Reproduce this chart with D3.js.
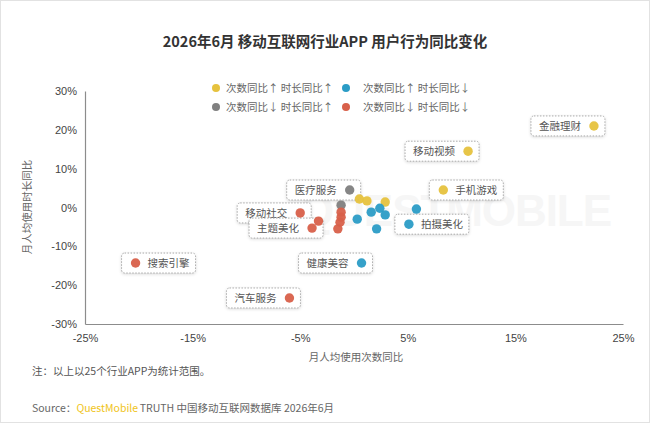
<!DOCTYPE html>
<html>
<head>
<meta charset="utf-8">
<script src="https://cdn.jsdelivr.net/npm/d3@7"></script>
<style>
  body { margin: 0; background: #fff; }
  svg { display: block; font-family: "Noto Sans CJK SC", "Liberation Sans", sans-serif; }
</style>
</head>
<body>
<svg id="canvas" width="650" height="423"></svg>
<script>
// app names ("" = no label), 次数同比 (%), 时长同比 (%)
const apps = ["金融理财", "移动视频", "手机游戏", "", "", "",
  "拍摄美化", "", "健康美容", "", "", "", "", "",
  "医疗服务", "",
  "移动社交", "主题美化", "搜索引擎", "汽车服务", "", "", "", "", ""];
const countChange = [22.3, 10.6, 8.3, 0.5, 1.2, 2.9,
  5.1, 5.8, 0.7, 0.3, 1.6, 2.4, 2.9, 2.1,
  -0.4, -1.2,
  -5.0, -3.9, -20.3, -6.0, -3.3, -1.2, -1.2, -1.3, -1.5];
const timeChange = [21.0, 14.5, 4.5, 2.2, 1.7, 1.4,
  -4.3, -0.4, -14.3, -3.0, -1.2, -0.2, -1.9, -5.5,
  4.5, 0.6,
  -1.4, -5.3, -14.3, -23.3, -3.5, -1.2, -2.5, -3.8, -5.5];

const xTicks = [-25, -15, -5, 5, 15, 25];
const yTicks = [-30, -20, -10, 0, 10, 20, 30];

const legendLabels = ["次数同比↑ 时长同比↑", "次数同比↑ 时长同比↓", "次数同比↓ 时长同比↑", "次数同比↓ 时长同比↓"];
const colors = ["#e6c23e", "#2b9cc6", "#808080", "#d8604a"];

// labels with the dot on the left of the text
const dotFirst = ["手机游戏", "拍摄美化", "搜索引擎"];

const svg = d3.select("#canvas");

const x = d3.scaleLinear().domain([-25, 25]).range([85, 623]);
const y = d3.scaleLinear().domain([-30, 30]).range([324, 91]);

let colorOf = i => {
  let up1 = countChange[i] >= 0, up2 = timeChange[i] >= 0;
  if (up1 && up2) return colors[0];
  if (up1) return colors[1];
  if (up2) return colors[2];
  return colors[3];
};

// frame
svg.append("rect").attr("x", 0.5).attr("y", 0.5).attr("width", 649).attr("height", 422)
  .attr("fill", "#fff").attr("stroke", "#e2e2e2");

// faint watermark
svg.append("text").attr("x", 300).attr("y", 226).text("QUESTMOBILE")
  .attr("font-family", "Liberation Sans").attr("font-size", 44).attr("font-weight", "bold")
  .attr("textLength", 312).attr("fill", "#f6f6f6");

// title
svg.append("text").attr("x", 325).attr("y", 47).attr("text-anchor", "middle")
  .attr("font-size", 14.5).attr("font-weight", "bold").attr("fill", "#333")
  .text("2026年6月 移动互联网行业APP 用户行为同比变化");

// legend
const legend = svg.append("g").selectAll("g").data(legendLabels).enter().append("g")
  .attr("transform", (d, i) => `translate(${i % 2 === 0 ? 216 : 346}, ${i < 2 ? 88 : 107})`);
legend.append("circle").attr("r", 4).attr("fill", (d, i) => colors[i]);
legend.append("text").attr("x", (d, i) => i % 2 === 0 ? 10 : 17).attr("y", 4)
  .attr("font-size", 10.5).attr("fill", "#666").text(d => d);

// axes
const yAxis = d3.axisLeft(y).tickValues(yTicks).tickFormat(d => d + "%").tickSize(0).tickPadding(8);
const xAxis = d3.axisBottom(x).tickValues(xTicks).tickFormat(d => d + "%").tickSize(0).tickPadding(10);

const gy = svg.append("g").attr("transform", "translate(85,0)").call(yAxis);
const gx = svg.append("g").attr("transform", "translate(0,324)").call(xAxis);
[gx, gy].forEach(g => {
  g.select(".domain").attr("stroke", "#8c8c8c").attr("stroke-width", 1.2);
  g.selectAll("text").attr("font-family", "Liberation Sans").attr("font-size", 11).attr("fill", "#444");
});

svg.append("text").attr("x", 356).attr("y", 361).attr("text-anchor", "middle")
  .attr("font-size", 10.5).attr("fill", "#666").text("月人均使用次数同比");
svg.append("text").attr("transform", "translate(31,207) rotate(-90)").attr("text-anchor", "middle")
  .attr("font-size", 10.5).attr("fill", "#666").text("月人均使用时长同比");

// label boxes
const labelled = d3.range(apps.length).filter(i => apps[i] !== "");
const boxes = svg.append("g").selectAll("g").data(labelled).enter().append("g")
  .attr("transform", i => `translate(${x(countChange[i])}, ${y(timeChange[i])})`);
boxes.append("rect")
  .attr("x", i => dotFirst.includes(apps[i]) ? -14 : -63)
  .attr("y", -10).attr("width", 74).attr("height", 20).attr("rx", 3)
  .attr("fill", "#fff").attr("stroke", "#aaa").attr("stroke-dasharray", "1.5,1.5")
  .style("filter", "drop-shadow(0px 1px 1.5px rgba(0,0,0,0.15))");
boxes.append("text")
  .attr("x", i => dotFirst.includes(apps[i]) ? 12 : -55).attr("y", 4)
  .attr("font-size", 10.5).attr("fill", "#555").text(i => apps[i]);

// dots
svg.append("g").selectAll("circle").data(d3.range(apps.length)).enter().append("circle")
  .attr("cx", i => x(countChange[i]))
  .attr("cy", i => y(timeChange[i]))
  .attr("r", 4.7)
  .attr("fill", i => colorOf(i))
  .attr("opacity", 0.95);

// notes
svg.append("text").attr("x", 32).attr("y", 375).attr("font-size", 10.5).attr("fill", "#555")
  .text("注：以上以25个行业APP为统计范围。");
const src = svg.append("text").attr("x", 32).attr("y", 412).attr("font-size", 10.5).attr("fill", "#666");
src.append("tspan").text("Source：");
src.append("tspan").attr("fill", "#f0c419").text("QuestMobile");
src.append("tspan").attr("dx", 2).text("TRUTH 中国移动互联网数据库 2026年6月");
</script>
</body>
</html>
